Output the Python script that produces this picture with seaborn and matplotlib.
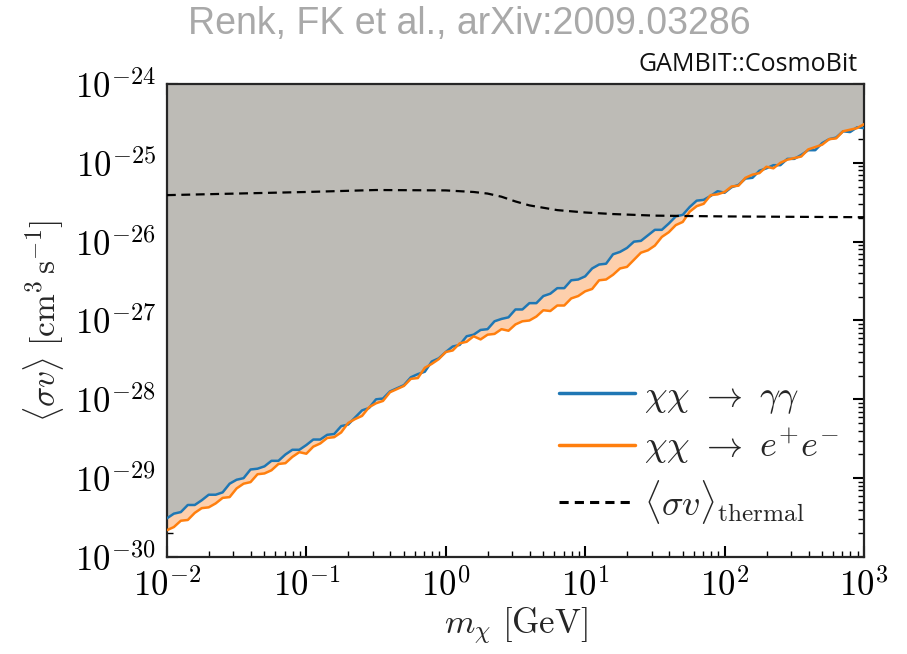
import numpy as np
import pandas as pd
import matplotlib
matplotlib.use("Agg")
import matplotlib.pyplot as plt
import matplotlib.ticker as mticker
from matplotlib.lines import Line2D
import seaborn as sns

# ---------------- data (log10 values) ----------------
log_mass = np.round(np.linspace(-2.0, 3.0, 101), 2)  # log10(m_chi / GeV)

log_sv_gamma = [
    -29.51, -29.45, -29.43, -29.34, -29.34, -29.28, -29.21, -29.21, -29.18, -29.07,
    -29.02, -29.00, -28.89, -28.88, -28.85, -28.78, -28.78, -28.70, -28.64, -28.64,
    -28.58, -28.51, -28.51, -28.45, -28.44, -28.34, -28.32, -28.23, -28.14, -28.11,
    -28.00, -27.99, -27.90, -27.86, -27.82, -27.72, -27.68, -27.65, -27.52, -27.48,
    -27.40, -27.33, -27.31, -27.20, -27.18, -27.12, -27.11, -27.01, -26.98, -26.96,
    -26.86, -26.86, -26.78, -26.78, -26.69, -26.66, -26.59, -26.59, -26.49, -26.48,
    -26.44, -26.34, -26.29, -26.28, -26.16, -26.13, -26.08, -26.00, -25.99, -25.92,
    -25.85, -25.85, -25.77, -25.68, -25.66, -25.56, -25.48, -25.47, -25.42, -25.36,
    -25.38, -25.31, -25.28, -25.20, -25.19, -25.10, -25.07, -25.03, -25.03, -24.95,
    -24.95, -24.90, -24.84, -24.84, -24.75, -24.70, -24.68, -24.60, -24.61, -24.55,
    -24.56,
]

log_sv_ee = [
    -29.66, -29.62, -29.54, -29.53, -29.44, -29.38, -29.37, -29.32, -29.25, -29.24,
    -29.13, -29.07, -29.05, -28.95, -28.94, -28.90, -28.82, -28.81, -28.73, -28.67,
    -28.69, -28.60, -28.56, -28.49, -28.48, -28.42, -28.30, -28.25, -28.21, -28.10,
    -28.05, -28.02, -27.91, -27.87, -27.83, -27.74, -27.73, -27.60, -27.55, -27.49,
    -27.40, -27.38, -27.29, -27.27, -27.20, -27.24, -27.18, -27.17, -27.11, -27.13,
    -27.05, -27.01, -27.00, -26.95, -26.87, -26.88, -26.81, -26.81, -26.72, -26.69,
    -26.63, -26.60, -26.49, -26.48, -26.42, -26.34, -26.32, -26.23, -26.14, -26.11,
    -26.05, -25.94, -25.88, -25.79, -25.75, -25.62, -25.55, -25.52, -25.41, -25.40,
    -25.37, -25.30, -25.29, -25.19, -25.15, -25.13, -25.05, -25.07, -25.00, -24.96,
    -24.94, -24.92, -24.83, -24.80, -24.77, -24.70, -24.69, -24.60, -24.58, -24.56,
    -24.51,
]

log_mass_thermal = [-2.0, -1.5, -1.0, -0.5, 0.0, 0.2, 0.3, 0.4, 0.5, 0.6, 0.7,
                    0.8, 1.0, 1.2, 1.5, 2.0, 2.5, 3.0]
log_sv_thermal = [-25.41, -25.39, -25.37, -25.345, -25.35, -25.37, -25.39, -25.43,
                  -25.49, -25.54, -25.57, -25.60, -25.63, -25.65, -25.67, -25.68,
                  -25.685, -25.69]

labels = [r"$\chi\chi\ \rightarrow\ \gamma\gamma$",
          r"$\chi\chi\ \rightarrow\ e^{+}e^{-}$",
          r"$\langle\sigma v\rangle_{\rm thermal}$"]

x_ticks = [1e-2, 1e-1, 1e0, 1e1, 1e2, 1e3]
y_ticks = [1e-30, 1e-29, 1e-28, 1e-27, 1e-26, 1e-25, 1e-24]

# ---------------- build frames ----------------
mass = 10.0 ** np.asarray(log_mass)
df = pd.DataFrame({
    "m": np.concatenate([mass, mass]),
    "sv": 10.0 ** np.concatenate([log_sv_gamma, log_sv_ee]),
    "channel": [labels[0]] * len(mass) + [labels[1]] * len(mass),
})
df_th = pd.DataFrame({"m": 10.0 ** np.asarray(log_mass_thermal),
                      "sv": 10.0 ** np.asarray(log_sv_thermal)})

# ---------------- style ----------------
sns.set_style("ticks")
plt.rcParams["font.family"] = ["DejaVu Serif"]
plt.rcParams["mathtext.fontset"] = "cm"
plt.rcParams["axes.linewidth"] = 1.6

fig = plt.figure(figsize=(9.07, 6.54), dpi=100)
ax = fig.add_axes([0.184, 0.1483, 0.7686, 0.7233])
ax.set_xscale("log")
ax.set_yscale("log")

blue = "#1f77b4"
orange = "#ff7f0e"

sv_g = 10.0 ** np.asarray(log_sv_gamma)
sv_e = 10.0 ** np.asarray(log_sv_ee)
ax.fill_between(mass, sv_g, 1e-24, color="#bdbbb6", lw=0, zorder=1)
ax.fill_between(mass, sv_e, sv_g, where=sv_e <= sv_g, interpolate=True,
                color="#fdcfac", lw=0, zorder=1)

sns.lineplot(data=df, x="m", y="sv", hue="channel", palette=[blue, orange],
             lw=1.8, ax=ax, zorder=3, legend=False, estimator=None, sort=False)
sns.lineplot(data=df_th, x="m", y="sv", color="black", lw=1.6, ls=(0, (4, 2.5)),
             ax=ax, zorder=4, estimator=None)

ax.set_xlim(1e-2, 1e3)
ax.set_ylim(1e-30, 1e-24)
ax.set_xticks(x_ticks)
ax.set_yticks(y_ticks)
fmt = mticker.FuncFormatter(lambda v, p: r"$10^{%d}$" % int(round(np.log10(v))))
ax.xaxis.set_major_formatter(fmt)
ax.yaxis.set_major_formatter(fmt)
ax.xaxis.set_minor_locator(mticker.LogLocator(base=10, subs=np.arange(2, 10), numticks=20))
ax.yaxis.set_minor_locator(mticker.LogLocator(base=10, subs=np.arange(2, 10), numticks=20))
ax.xaxis.set_minor_formatter(mticker.NullFormatter())
ax.yaxis.set_minor_formatter(mticker.NullFormatter())
ax.tick_params(which="both", direction="in", top=True, right=True, colors="black")
ax.tick_params(which="major", length=8, width=1.5, labelsize=25, pad=8)
ax.tick_params(which="minor", length=4, width=1.0)

ax.set_xlabel(r"$m_\chi\ [\mathrm{GeV}]$", fontsize=25, labelpad=2)
ax.set_ylabel(r"$\langle\sigma v\rangle\ [\mathrm{cm}^3\,\mathrm{s}^{-1}]$", fontsize=24, labelpad=6)

handles = [Line2D([], [], color=blue, lw=2.5),
           Line2D([], [], color=orange, lw=2.5),
           Line2D([], [], color="black", lw=2.2, ls=(0, (3, 2)))]
ax.legend(handles, labels, loc="lower right", bbox_to_anchor=(1.0, 0.013),
          frameon=False, fontsize=26, handlelength=2.1, handletextpad=0.25,
          labelspacing=0.31, borderaxespad=0.3)

fig.text(0.517, 0.963, "Renk, FK et al., arXiv:2009.03286", ha="center", va="center",
         color="#a9a9a9", fontsize=27, family="Liberation Sans")
fig.text(0.946, 0.882, "GAMBIT::CosmoBit", ha="right", va="bottom",
         color="#111111", fontsize=18, family="Open Sans")

fig.savefig("out.png", dpi=100)
